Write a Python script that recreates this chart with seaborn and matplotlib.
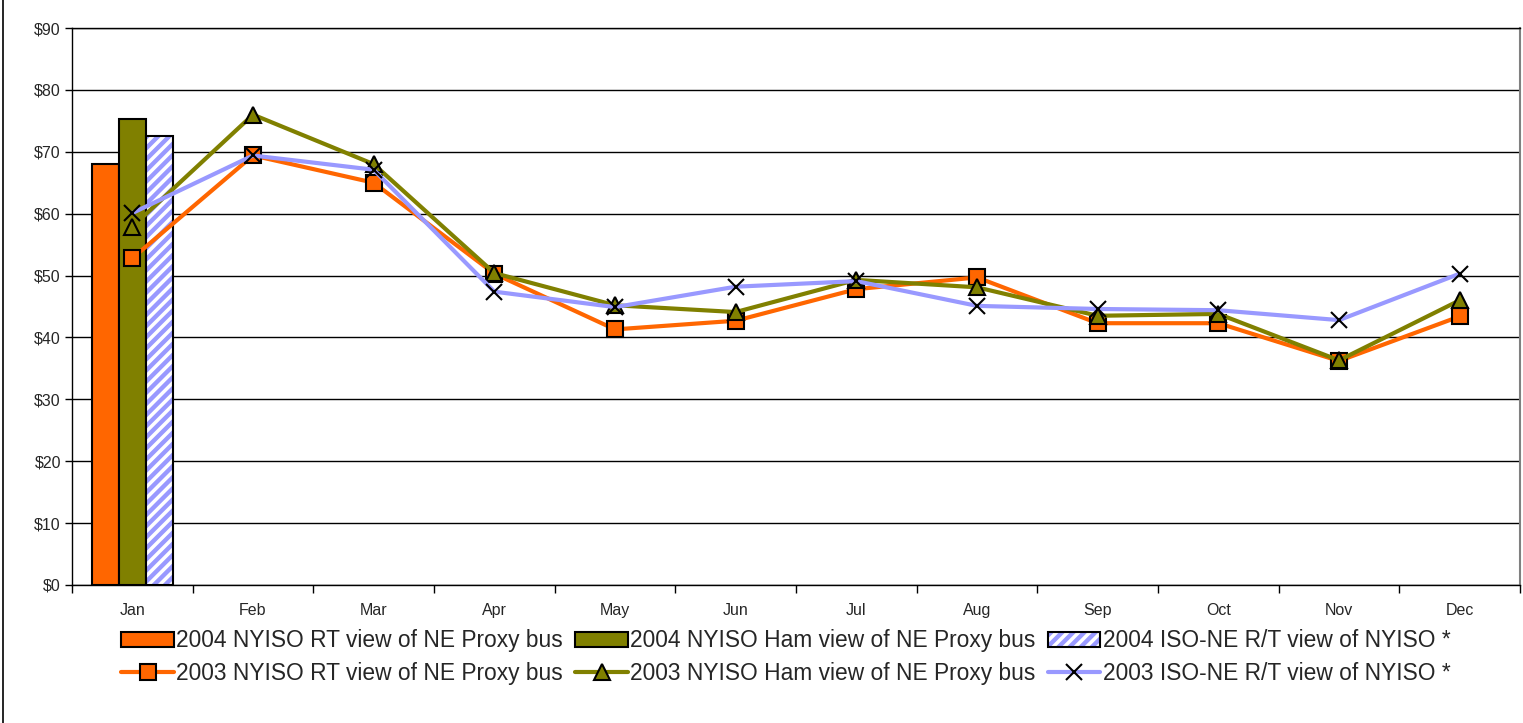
import matplotlib
matplotlib.use("Agg")
import matplotlib.pyplot as plt
import matplotlib.ticker as mticker
from matplotlib.patches import Patch, Rectangle
from matplotlib.lines import Line2D
import seaborn as sns
import numpy as np
import pandas as pd

months = ["Jan", "Feb", "Mar", "Apr", "May", "Jun",
          "Jul", "Aug", "Sep", "Oct", "Nov", "Dec"]

bar_series = ["2004 NYISO RT view of NE Proxy bus",
              "2004 NYISO Ham view of NE Proxy bus",
              "2004 ISO-NE R/T view of NYISO *"]
bar_month = ["Jan", "Jan", "Jan"]
bar_values = [68.1, 75.3, 72.6]

line_series = ["2003 NYISO RT view of NE Proxy bus",
               "2003 NYISO Ham view of NE Proxy bus",
               "2003 ISO-NE R/T view of NYISO *"]
rt_2003 = [52.8, 69.4, 65.0, 50.3, 41.3, 42.7, 47.8, 49.7, 42.3, 42.3, 36.2, 43.4]
ham_2003 = [57.9, 76.0, 68.0, 50.4, 45.2, 44.1, 49.3, 48.1, 43.5, 43.8, 36.3, 46.0]
isone_2003 = [60.1, 69.4, 67.1, 47.4, 44.9, 48.2, 49.1, 45.1, 44.6, 44.4, 42.8, 50.3]

ORANGE = "#FF6600"
OLIVE = "#808000"
LAVENDER = "#9999FF"

sns.set_theme(style="white")
plt.rcParams.update({
    "font.family": ["Liberation Sans", "DejaVu Sans"],
    "hatch.linewidth": 2.5,
})

fig = plt.figure(figsize=(15.23, 7.23), dpi=100)
ax = fig.add_axes([72 / 1523, 1 - 585 / 723, (1520 - 72) / 1523, (585 - 28) / 723])

bars = pd.DataFrame({"month": bar_month, "series": bar_series, "value": bar_values})
sns.barplot(data=bars, x="month", y="value", hue="series", order=months,
            hue_order=bar_series, palette=[ORANGE, OLIVE, LAVENDER],
            width=0.67, gap=0, edgecolor="black", linewidth=1.5,
            saturation=1, legend=False, ax=ax)

# hatch the ISO-NE bar: white stripes, then a black outline on top
for p in list(ax.patches):
    if np.allclose(p.get_facecolor()[:3], matplotlib.colors.to_rgb(LAVENDER)):
        p.set_edgecolor("white")
        p.set_hatch("///")
        p.set_linewidth(0)
        bb = p.get_bbox()
        ax.add_patch(Rectangle((bb.x0, bb.y0), bb.width, bb.height, fill=False,
                               edgecolor="black", linewidth=1.5, zorder=p.get_zorder() + 0.1))

lines = pd.DataFrame({
    "pos": list(range(len(months))) * 3,
    "value": rt_2003 + ham_2003 + isone_2003,
    "series": np.repeat(line_series, len(months)),
})
styles = {
    line_series[0]: dict(color=ORANGE, marker="s", mfc=ORANGE, mec="black", ms=11),
    line_series[1]: dict(color=OLIVE, marker="^", mfc=OLIVE, mec="black", ms=12),
    line_series[2]: dict(color=LAVENDER, marker="x", mfc="none", mec="black", ms=12),
}
for name in line_series:
    st = styles[name]
    sub = lines[lines["series"] == name]
    sns.lineplot(data=sub, x="pos", y="value", color=st["color"], linewidth=3,
                 marker=st["marker"], markerfacecolor=st["mfc"],
                 markeredgecolor=st["mec"], markersize=st["ms"],
                 markeredgewidth=1.5, ax=ax, zorder=5)

ax.set_xlim(-0.5, 11.5)
ax.set_ylim(0, 90)
ax.set_xlabel("")
ax.set_ylabel("")
ax.yaxis.set_major_locator(mticker.MultipleLocator(10))
ax.yaxis.set_major_formatter(mticker.FuncFormatter(lambda v, _: f"${v:.0f}"))
ax.grid(axis="y", color="black", linewidth=1)
ax.set_axisbelow(True)

ax.set_xticks(np.arange(-0.5, 12, 1))
ax.set_xticklabels([])
ax.set_xticks(range(len(months)), minor=True)
ax.set_xticklabels(months, minor=True)
ax.tick_params(axis="x", which="major", direction="out", length=6, width=1, color="black", bottom=True)
ax.tick_params(axis="x", which="minor", length=0, pad=13, labelsize=11.5)
ax.tick_params(axis="y", direction="out", length=5, width=1, color="black", left=True, labelsize=11.5, pad=3)

for side in ["left", "bottom", "top"]:
    ax.spines[side].set_color("black")
    ax.spines[side].set_linewidth(1)
ax.spines["right"].set_color("#808080")
ax.spines["right"].set_linewidth(1.5)

hatched = (Patch(facecolor=LAVENDER, edgecolor="white", hatch="///", linewidth=0),
           Patch(fill=False, edgecolor="black", linewidth=1.5))
handles = [
    Patch(facecolor=ORANGE, edgecolor="black", linewidth=1.5),
    Line2D([], [], color=ORANGE, lw=3, marker="s", mfc=ORANGE, mec="black", ms=11, mew=1.5),
    Patch(facecolor=OLIVE, edgecolor="black", linewidth=1.5),
    Line2D([], [], color=OLIVE, lw=3, marker="^", mfc=OLIVE, mec="black", ms=12, mew=1.5),
    hatched,
    Line2D([], [], color=LAVENDER, lw=3, marker="x", mec="black", ms=12, mew=1.5),
]
labels = [bar_series[0], line_series[0], bar_series[1], line_series[1],
          bar_series[2], line_series[2]]
fig.legend(handles, labels, ncol=3, loc="center", bbox_to_anchor=(0.516, 1 - 657 / 723),
           frameon=False, fontsize=16.4, handlelength=2.3, handletextpad=0.1,
           columnspacing=0.55, labelspacing=0.4, borderaxespad=0)

fig.add_artist(Line2D([3 / 1523, 3 / 1523], [0, 1], color="black", linewidth=1.2,
                      transform=fig.transFigure))

fig.savefig("out.png", dpi=100, facecolor="white")
